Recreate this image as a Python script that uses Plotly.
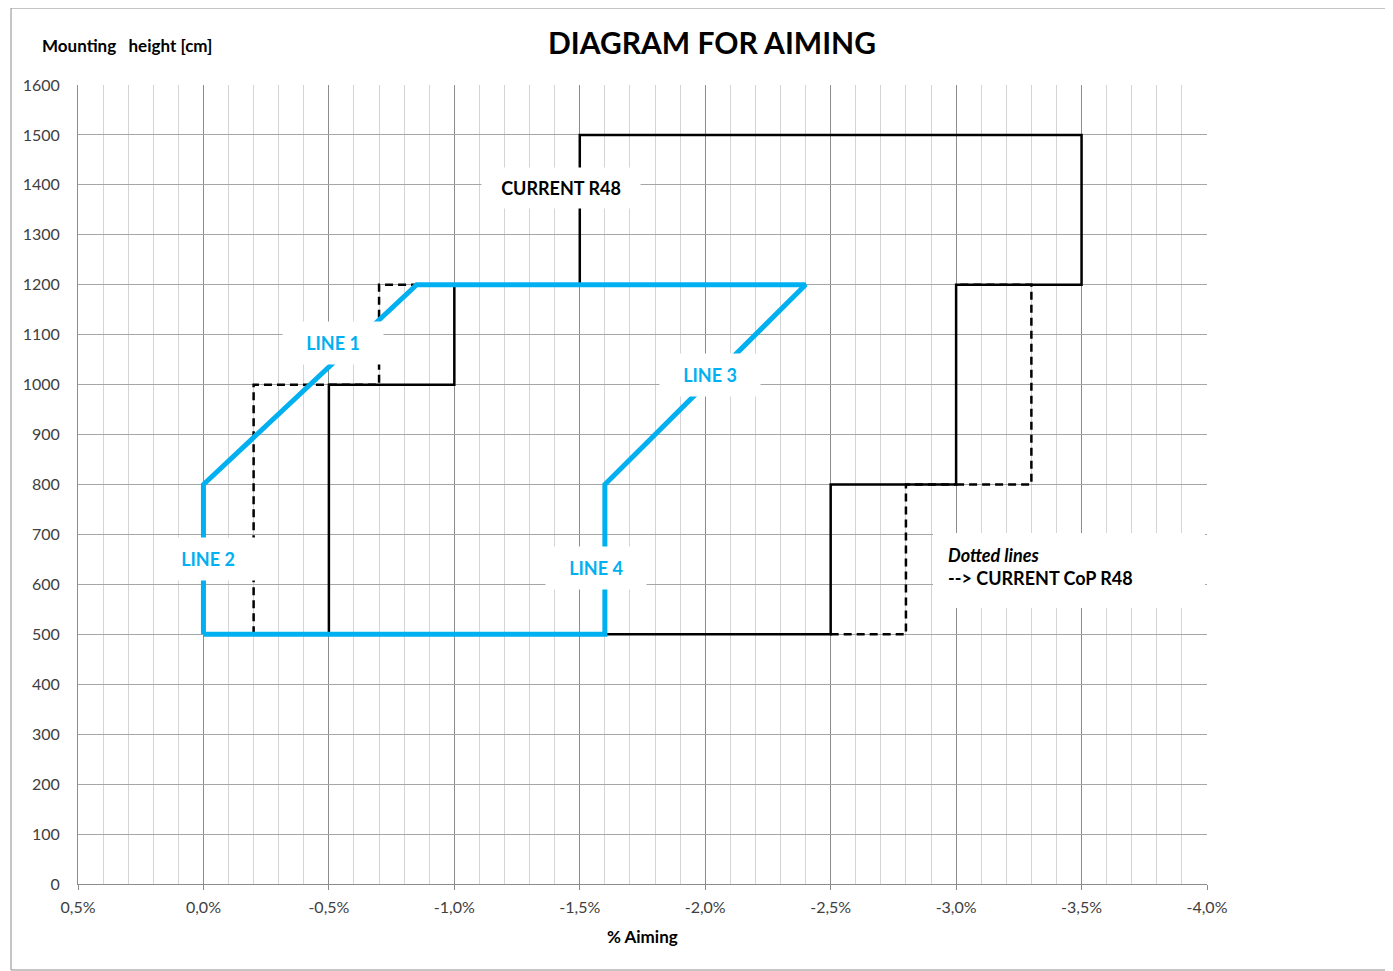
import plotly.graph_objects as go

# ---- data (x in % aiming, y in cm) ----
r48_x = [-0.5, -0.5, -1.0, -1.0, -1.5, -1.5, -3.5, -3.5, -3.0, -3.0, -2.5, -2.5, -0.5]
r48_y = [500, 1000, 1000, 1200, 1200, 1500, 1500, 1200, 1200, 800, 800, 500, 500]

cop1_x = [-0.2, -0.2, -0.7, -0.7, -1.0]
cop1_y = [500, 1000, 1000, 1200, 1200]
cop2_x = [-2.5, -2.8, -2.8, -3.0]
cop2_y = [500, 500, 800, 800]
cop3_x = [-3.0, -3.3, -3.3, -3.0]
cop3_y = [800, 800, 1200, 1200]

new_x = [0.0, 0.0, -0.85, -2.4, -1.6, -1.6, 0.0]
new_y = [500, 800, 1200, 1200, 800, 500, 500]

x_tickvals = [0.5, 0.0, -0.5, -1.0, -1.5, -2.0, -2.5, -3.0, -3.5, -4.0]
x_ticktext = ["0,5%", "0,0%", "-0,5%", "-1,0%", "-1,5%", "-2,0%", "-2,5%", "-3,0%", "-3,5%", "-4,0%"]
y_tickvals = list(range(0, 1700, 100))

labels = [
    ("LINE 1", -0.515, 1083),
    ("LINE 2", -0.02, 651),
    ("LINE 3", -2.02, 1019),
    ("LINE 4", -1.565, 633),
]

FONT = "Lato"
BLUE = "#00B0F0"

# page-pixel helpers (plot area spans x 78..1207, y 85..884 on the page)
def px(x):
    return (x - 78) / 1129

def py(y):
    return (884 - y) / 799

fig = go.Figure()
for xs, ys in [(cop1_x, cop1_y), (cop2_x, cop2_y), (cop3_x, cop3_y)]:
    fig.add_trace(go.Scatter(x=xs, y=ys, mode="lines",
                             line=dict(color="black", width=2.5, dash="8px,5px"),
                             hoverinfo="skip", showlegend=False))
fig.add_trace(go.Scatter(x=r48_x, y=r48_y, mode="lines",
                         line=dict(color="black", width=2.5),
                         showlegend=False))
fig.add_trace(go.Scatter(x=new_x, y=new_y, mode="lines",
                         line=dict(color=BLUE, width=5),
                         showlegend=False))

for txt, lx, ly in labels:
    fig.add_annotation(x=lx, y=ly, text="<b>%s</b>" % txt, showarrow=False,
                       xanchor="center", yanchor="middle",
                       font=dict(family=FONT, size=18, color=BLUE),
                       bgcolor="white", width=96, height=38, borderpad=2)

fig.add_annotation(x=-1.426, y=1394, text="<b>CURRENT R48</b>", showarrow=False,
                   xanchor="center", yanchor="middle",
                   font=dict(family=FONT, size=18, color="black"),
                   bgcolor="white", width=154, height=36, borderpad=2)

# white box behind the note
fig.add_shape(type="rect", xref="paper", yref="paper",
              x0=px(933), x1=px(1205), y0=py(608), y1=py(533),
              fillcolor="white", line=dict(width=0), layer="above")
fig.add_annotation(x=px(946), xref="paper", y=py(566), yref="paper",
                   text="<b><i>Dotted lines</i></b><br><b>--> CURRENT CoP R48</b>",
                   showarrow=False, align="left", xanchor="left", yanchor="middle",
                   font=dict(family=FONT, size=18, color="black"))

fig.add_annotation(x=px(712), xref="paper", y=py(42), yref="paper",
                   xanchor="center", yanchor="middle",
                   text="<b>DIAGRAM FOR AIMING</b>", showarrow=False,
                   font=dict(family=FONT, size=30, color="black"))
fig.add_annotation(x=px(40), xref="paper", xanchor="left",
                   y=py(45), yref="paper", yanchor="middle",
                   text="<b>Mounting   height [cm]</b>", showarrow=False,
                   font=dict(family=FONT, size=17, color="black"))
fig.add_annotation(x=px(642), xref="paper", xanchor="center",
                   y=py(936), yref="paper", yanchor="middle",
                   text="<b>% Aiming</b>", showarrow=False,
                   font=dict(family=FONT, size=17, color="black"))

fig.add_shape(type="rect", xref="paper", yref="paper",
              x0=px(11), x1=px(1420), y0=py(970), y1=py(8),
              line=dict(color="#8c8c8c", width=1), layer="below")

fig.update_xaxes(range=[0.5, -4.0], tickmode="array", tickvals=x_tickvals,
                 ticktext=x_ticktext, showgrid=True, gridcolor="#8c8c8c", gridwidth=1,
                 minor=dict(tickmode="linear", tick0=0, dtick=0.1, showgrid=True,
                            gridcolor="#d4d4d4", gridwidth=1),
                 showline=True, linecolor="#8c8c8c", linewidth=1,
                 ticks="outside", ticklen=5, tickcolor="#8c8c8c",
                 ticklabelstandoff=4,
                 zeroline=False, tickfont=dict(family=FONT, size=16, color="#404040"))
fig.update_yaxes(range=[0, 1600], tickmode="array", tickvals=y_tickvals,
                 showgrid=True, gridcolor="#a6a6a6", gridwidth=1,
                 showline=True, linecolor="#8c8c8c", linewidth=1,
                 zeroline=False, ticks="", ticklabelstandoff=14,
                 tickfont=dict(family=FONT, size=16, color="#404040"))

# the page body adds an 8px offset, so the figure is sized/margined to compensate
fig.update_layout(width=1385, height=963, autosize=False,
                  margin=dict(l=70, r=186, t=77, b=87),
                  plot_bgcolor="white", paper_bgcolor="white",
                  showlegend=False)

fig.write_html("out.html")
